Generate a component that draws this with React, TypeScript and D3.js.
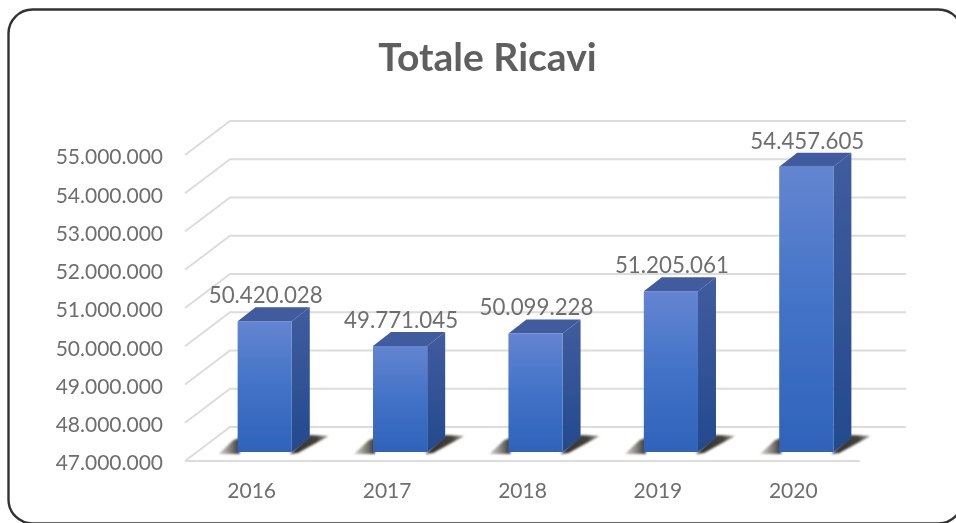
import React from "react";
import * as d3 from "d3";

const years = ["2016", "2017", "2018", "2019", "2020"];
const revenues = [50420028, 49771045, 50099228, 51205061, 54457605];
const axisTicks = [47000000, 48000000, 49000000, 50000000, 51000000, 52000000, 53000000, 54000000, 55000000];
const titleText = "Totale Ricavi";

const itFormat = (v: number) => d3.format(",")(v).replace(/,/g, ".");

export default function App() {
  const yFloor = d3.scaleLinear().domain([47000000, 55000000]).range([461, 155]);
  const x = d3.scaleBand<string>().domain(years).range([197.5, 874.5]).paddingInner(0.6).paddingOuter(0.3);
  const depthX = 45, depthY = 34;
  const barDx = 18, barDy = 14;
  const baseInset = 9;
  const font = "Lato, Carlito, sans-serif";
  const grey = "#6e6e6e";
  return (
    <svg width={956} height={523} style={{ position: "absolute", left: 0, top: 0, background: "#fff" }}>
      <defs>
        <filter id="soft" x="-2%" y="-2%" width="104%" height="104%"><feGaussianBlur stdDeviation="0.7" /></filter>
        <filter id="shadowBlur" x="-30%" y="-50%" width="160%" height="200%"><feGaussianBlur stdDeviation="1" /></filter>
        <linearGradient id="front" x1="0" x2="0" y1="0" y2="1">
          <stop offset="0" stopColor="#6485d0" />
          <stop offset="0.5" stopColor="#4272c8" />
          <stop offset="1" stopColor="#2f63ba" />
        </linearGradient>
        <linearGradient id="side" x1="0" x2="0" y1="0" y2="1">
          <stop offset="0" stopColor="#405c9f" />
          <stop offset="1" stopColor="#234a8d" />
        </linearGradient>
        <linearGradient id="shadowRight" x1="0" x2="1" y1="0" y2="0">
          <stop offset="0" stopColor="#2f2d29" />
          <stop offset="0.7" stopColor="#45423c" />
          <stop offset="1" stopColor="#7a766c" stopOpacity="0.7" />
        </linearGradient>
        <linearGradient id="shadowLeft" x1="0" x2="1" y1="0" y2="0">
          <stop offset="0" stopColor="#8a867c" stopOpacity="0.4" />
          <stop offset="1" stopColor="#33312c" />
        </linearGradient>
      </defs>
      <g filter="url(#soft)">
        <rect x={8.5} y={9.5} width={954} height={514} rx={24} fill="#fff" stroke="#333333" strokeWidth={2.4} />
        <text x={487.5} y={71} textAnchor="middle" fontFamily={font} fontWeight={700} fontSize={39} fill="#5f5f5f">{titleText}</text>
        {axisTicks.map((t) => {
          const y = yFloor(t);
          return (
            <g key={t}>
              <path d={`M185,${y}L${185 + depthX},${y - depthY}L906,${y - depthY}`} fill="none" stroke="#dcdcdc" strokeWidth={2} />
              {t === axisTicks[0] && <path d={`M185,${y}L860,${y}`} fill="none" stroke="#dcdcdc" strokeWidth={2} />}
              <text x={163} y={y + 2} dy="0.35em" textAnchor="end" fontFamily={font} fontSize={21} fill={grey}>{itFormat(t)}</text>
            </g>
          );
        })}
        {years.map((yr, i) => {
          const w = x.bandwidth();
          const xl = x(yr)! + baseInset - 9.5;
          const xr = xl + w;
          const base = yFloor(axisTicks[0]) - baseInset;
          const top = yFloor(revenues[i]) - baseInset;
          return (
            <g key={yr}>
              <polygon points={`${xl - 19},${base + 2} ${xl + 2},${base + 2} ${xl + 2},${base - 14} ${xl - 4},${base - 12}`} fill="url(#shadowLeft)" filter="url(#shadowBlur)" />
              <polygon points={`${xr - 2},${base + 2} ${xr + 6},${base + 1} ${xr + barDx + 19},${base - barDy - 2} ${xr + barDx},${base - barDy - 3}`} fill="url(#shadowRight)" filter="url(#shadowBlur)" />
              <polygon points={`${xl},${top} ${xl + barDx},${top - barDy} ${xr + barDx},${top - barDy} ${xr},${top}`} fill="#3f5b9e" />
              <polygon points={`${xr},${top} ${xr + barDx},${top - barDy} ${xr + barDx},${base - barDy} ${xr},${base}`} fill="url(#side)" />
              <rect x={xl} y={top} width={w} height={base - top} fill="url(#front)" />
              <text x={xl + w / 2 + 1} y={top - 26} dy="0.35em" textAnchor="middle" fontFamily={font} fontSize={22.3} fill={grey}>{itFormat(revenues[i])}</text>
              <text x={xl + w / 2 - 13} y={491} dy="0.35em" textAnchor="middle" fontFamily={font} fontSize={21} fill={grey}>{yr}</text>
            </g>
          );
        })}
      </g>
    </svg>
  );
}
